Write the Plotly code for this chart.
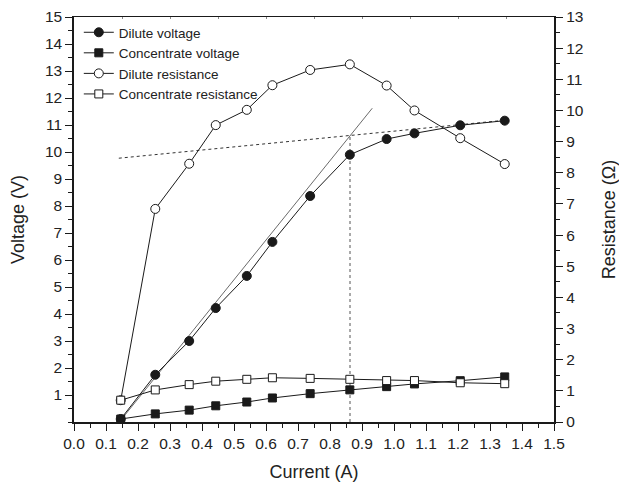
import plotly.graph_objects as go

# Measured current (A)
current = [0.146, 0.254, 0.360, 0.443, 0.540, 0.620, 0.738, 0.862, 0.977, 1.064, 1.207, 1.346]

# Voltages (V), left axis
dilute_voltage = [0.11, 1.75, 3.00, 4.22, 5.41, 6.67, 8.37, 9.90, 10.48, 10.69, 10.99, 11.16]
conc_voltage = [0.11, 0.30, 0.44, 0.60, 0.74, 0.89, 1.05, 1.19, 1.31, 1.41, 1.53, 1.67]

# Resistances (ohm), right axis
dilute_resistance = [0.70, 6.84, 8.29, 9.53, 10.02, 10.81, 11.30, 11.48, 10.80, 10.00, 9.11, 8.28]
conc_resistance = [0.70, 1.03, 1.20, 1.31, 1.37, 1.42, 1.40, 1.37, 1.33, 1.33, 1.26, 1.23]

# Construction lines for the limiting-current estimate
ohmic_x = [0.145, 0.932]
ohmic_v = [0.05, 11.62]
plateau_x = [0.140, 1.350]
plateau_v = [9.77, 11.18]
limit_x = [0.8625, 0.8625]
limit_v = [0.0, 10.61]

x_ticks = [round(i * 0.1, 1) for i in range(16)]
left_ticks = list(range(1, 16))
right_ticks = list(range(0, 14))

FONT = "Liberation Sans, Arial, sans-serif"
INK = "#1a1a1a"

fig = go.Figure()

fig.add_trace(go.Scatter(
    x=ohmic_x, y=ohmic_v, mode="lines", showlegend=False,
    line=dict(color="#444444", width=0.8), hoverinfo="skip"))
fig.add_trace(go.Scatter(
    x=plateau_x, y=plateau_v, mode="lines", showlegend=False,
    line=dict(color="#333333", width=1, dash="dot"), hoverinfo="skip"))
fig.add_trace(go.Scatter(
    x=limit_x, y=limit_v, mode="lines", showlegend=False,
    line=dict(color="#555555", width=1, dash="dot"), hoverinfo="skip"))

fig.add_trace(go.Scatter(
    x=current, y=dilute_voltage, name="Dilute voltage", mode="lines+markers",
    line=dict(color=INK, width=1),
    marker=dict(symbol="circle", size=9, color=INK, line=dict(color=INK, width=1))))
fig.add_trace(go.Scatter(
    x=current, y=conc_voltage, name="Concentrate voltage", mode="lines+markers",
    line=dict(color=INK, width=1),
    marker=dict(symbol="square", size=8, color=INK, line=dict(color=INK, width=1))))
fig.add_trace(go.Scatter(
    x=current, y=dilute_resistance, name="Dilute resistance", mode="lines+markers",
    yaxis="y2", line=dict(color=INK, width=1),
    marker=dict(symbol="circle", size=9, color="white", line=dict(color=INK, width=1))))
fig.add_trace(go.Scatter(
    x=current, y=conc_resistance, name="Concentrate resistance", mode="lines+markers",
    yaxis="y2", line=dict(color=INK, width=1),
    marker=dict(symbol="square", size=8, color="white", line=dict(color=INK, width=1))))

# Invisible trace carrying the top frame axis
fig.add_trace(go.Scatter(x=[0, 1.5], y=[0, 0], xaxis="x2", mode="lines",
                         line=dict(width=0), showlegend=False, hoverinfo="skip"))

tickfont = dict(family=FONT, size=15.5, color="#222222")
titlefont = dict(family=FONT, size=18, color="#222222")

fig.update_layout(
    width=619, height=482,
    margin=dict(l=74, r=65, t=17, b=60, autoexpand=False),
    paper_bgcolor="white", plot_bgcolor="white",
    font=dict(family=FONT, color="#222222"),
    showlegend=True,
    legend=dict(x=0.01, y=1.0, xanchor="left", yanchor="top",
                bgcolor="rgba(0,0,0,0)", font=dict(family=FONT, size=13.5, color="#222222"),
                itemwidth=30, tracegroupgap=0),
    xaxis=dict(range=[0, 1.5], tickvals=x_ticks, ticktext=[f"{v:.1f}" for v in x_ticks],
               automargin=False,
               showgrid=False, zeroline=False, showline=True, linecolor=INK, linewidth=1.5,
               ticks="outside", ticklen=7, tickwidth=1.2, tickcolor=INK,
               minor=dict(dtick=0.05, tick0=0, ticks="outside", ticklen=4, tickcolor=INK, tickwidth=1),
               tickfont=tickfont, title=dict(text="Current (A)", font=titlefont, standoff=14)),
    xaxis2=dict(range=[0, 1.5], overlaying="x", side="top", anchor="y", automargin=False,
                showgrid=False, zeroline=False, showline=True, linecolor=INK, linewidth=1,
                ticks="inside", ticklen=2, tickcolor="#888888", tickwidth=1,
                tick0=0, dtick=0.15, showticklabels=False),
    yaxis=dict(range=[0, 15], tickvals=left_ticks, showgrid=False, zeroline=False,
               automargin=False,
               showline=True, linecolor=INK, linewidth=1.5,
               ticks="outside", ticklen=7, tickwidth=1.2, tickcolor=INK,
               minor=dict(dtick=0.5, tick0=0, ticks="outside", ticklen=4, tickcolor=INK, tickwidth=1),
               tickfont=tickfont, title=dict(text="Voltage (V)", font=titlefont, standoff=16)),
    yaxis2=dict(range=[0, 13], tickvals=right_ticks, overlaying="y", side="right", anchor="x",
                automargin=False,
                showgrid=False, zeroline=False, showline=True, linecolor=INK, linewidth=2.2,
                ticks="outside", ticklen=7, tickwidth=1.2, tickcolor=INK,
                minor=dict(dtick=0.5, tick0=0, ticks="outside", ticklen=4, tickcolor=INK, tickwidth=1),
                tickfont=tickfont, title=dict(text="Resistance (Ω)", font=titlefont, standoff=22)),
)

fig.write_html("out.html")
